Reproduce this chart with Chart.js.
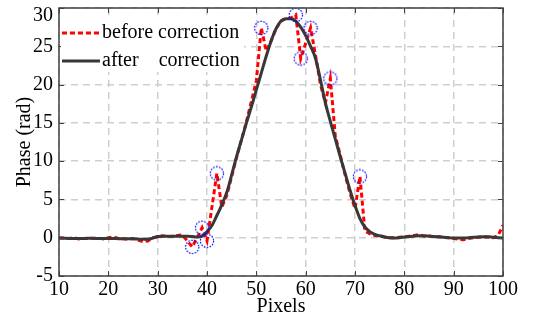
<!DOCTYPE html>
<html>
<head>
<meta charset="utf-8">
<script src="https://cdn.jsdelivr.net/npm/chart.js@4.4.1/dist/chart.umd.min.js"></script>
<style>
html,body{margin:0;padding:0;background:#fff;}
#c{display:block;}
</style>
</head>
<body>
<canvas id="c" width="540" height="324"></canvas>
<script>
// ---- data ----
const pixels = [10,11,12,13,14,15,16,17,18,19,20,21,22,23,24,25,26,27,28,29,30,31,32,33,34,35,36,37,38,39,40,41,42,43,44,45,46,47,48,49,50,51,52,53,54,55,56,57,58,59,60,61,62,63,64,65,66,67,68,69,70,71,72,73,74,75,76,77,78,79,80,81,82,83,84,85,86,87,88,89,90,91,92,93,94,95,96,97,98,99,100];
const afterCorrection = [
 -0.05,-0.08,-0.1,-0.1,-0.1,-0.1,-0.08,-0.08,-0.1,-0.1,
 -0.1,-0.1,-0.12,-0.12,-0.15,-0.15,-0.18,-0.2,-0.2,-0.05,
 0.15,0.2,0.2,0.2,0.2,0.2,0.18,0.15,0.1,0.2,
 0.8,1.6,2.9,4.3,5.9,8.2,10.6,12.8,15.0,17.1,
 19.3,21.5,23.7,25.7,27.3,28.3,28.6,28.6,28.3,27.5,
 26.4,25.0,23.4,20.6,17.6,15.2,12.9,10.6,8.4,6.2,
 4.2,2.5,1.4,0.8,0.45,0.25,0.1,0.0,-0.05,0.0,
 0.1,0.15,0.2,0.25,0.25,0.2,0.15,0.1,0.05,0.0,
 -0.05,-0.05,-0.05,0.0,0.05,0.1,0.12,0.12,0.05,0.0,
 -0.05];
const beforeCorrection = [
 0.0,-0.05,-0.1,0.0,-0.15,-0.1,-0.05,-0.1,-0.05,-0.15,
 0.0,0.1,-0.1,-0.15,-0.2,-0.1,-0.3,-0.5,-0.45,0.0,
 0.1,0.25,0.15,0.2,0.3,0.35,-0.4,-1.2,0.0,1.3,
 -0.4,4.0,8.4,4.0,5.5,8.0,10.5,12.8,15.2,17.8,
 20.5,27.4,24.4,25.7,27.3,28.3,28.6,28.7,29.1,23.4,
 25.4,27.4,23.8,20.0,17.6,20.8,13.3,10.8,8.2,5.8,
 3.8,8.0,0.9,0.5,0.3,0.25,0.1,0.0,0.0,0.05,
 0.1,0.2,0.3,0.4,0.2,0.25,0.1,0.15,0.05,0.0,
 -0.1,-0.2,-0.25,-0.1,0.0,0.05,0.1,0.05,0.0,0.3,
 1.6];
const outlierPixels = [37,39,40,42,51,58,59,61,65,71];
const xTicks = [10,20,30,40,50,60,70,80,90,100];
const yTicks = [-5,0,5,10,15,20,25,30];
const legendLabels = ['before correction', 'after    correction'];

// ---- build ----
const FONT = "'Liberation Serif', 'Times New Roman', serif";
const beforePts = pixels.map((p,i)=>({x:p,y:beforeCorrection[i]}));
const afterPts = pixels.map((p,i)=>({x:p,y:afterCorrection[i]}));
const outlierPts = outlierPixels.map(p=>({x:p,y:beforeCorrection[pixels.indexOf(p)]}));
const yTop = yTicks[yTicks.length-1];

const circ = document.createElement('canvas');
circ.width = 16; circ.height = 16;
(function(){
  const g = circ.getContext('2d');
  g.strokeStyle = '#0000ff';
  g.lineWidth = 1.2;
  g.setLineDash([1.6,1.4]);
  g.beginPath(); g.arc(8,8,6.6,0,Math.PI*2); g.stroke();
})();

const framePlugin = {
  id:'frame',
  afterDatasetsDraw(chart){
    const {ctx, chartArea:a, scales} = chart;
    ctx.save();
    ctx.strokeStyle = '#444';
    ctx.lineWidth = 1;
    ctx.setLineDash([]);
    ctx.beginPath();
    scales.x.ticks.forEach(t=>{
      const px = Math.round(scales.x.getPixelForValue(t.value))+0.5;
      ctx.moveTo(px,a.bottom); ctx.lineTo(px,a.bottom-5);
      ctx.moveTo(px,a.top); ctx.lineTo(px,a.top+5);
    });
    scales.y.ticks.forEach(t=>{
      const py = Math.round(scales.y.getPixelForValue(t.value))+0.5;
      ctx.moveTo(a.left,py); ctx.lineTo(a.left+5,py);
      ctx.moveTo(a.right,py); ctx.lineTo(a.right-5,py);
    });
    ctx.stroke();
    ctx.lineWidth = 1.5;
    ctx.strokeStyle = '#404040';
    ctx.strokeRect(a.left, a.top, a.right-a.left, a.bottom-a.top);
    ctx.restore();
  },
  afterDraw(chart){
    const ctx = chart.ctx;
    ctx.save();
    ctx.fillStyle = '#fff';
    ctx.fillRect(61,19,183,53);
    ctx.lineWidth = 3;
    ctx.strokeStyle = '#ff0000';
    ctx.setLineDash([5,3]);
    ctx.beginPath(); ctx.moveTo(62,33); ctx.lineTo(100,33); ctx.stroke();
    ctx.setLineDash([]);
    ctx.strokeStyle = '#383838';
    ctx.beginPath(); ctx.moveTo(62,61); ctx.lineTo(100,61); ctx.stroke();
    ctx.fillStyle = '#000';
    ctx.font = "20px " + FONT;
    ctx.textBaseline = 'middle';
    ctx.textAlign = 'left';
    ctx.fillText(legendLabels[0],102,33);
    ctx.fillText(legendLabels[1],102,61);
    ctx.restore();
  }
};

new Chart(document.getElementById('c'), {
  type:'line',
  data:{
    datasets:[
      {label:'outliers', data:outlierPts, showLine:false, pointStyle:circ, pointRadius:7, order:0},
      {label:legendLabels[1], data:afterPts, borderColor:'#383838', borderWidth:3, pointRadius:0, cubicInterpolationMode:'monotone', order:1},
      {label:legendLabels[0], data:beforePts, borderColor:'#ff0000', borderWidth:3, borderDash:[5,3], pointRadius:0, tension:0, order:2}
    ]
  },
  options:{
    responsive:false,
    animation:false,
    devicePixelRatio:1,
    layout:{padding:{left:0,right:37,top:5,bottom:0}},
    plugins:{legend:{display:false}, tooltip:{enabled:false}},
    scales:{
      x:{
        type:'linear', min:10, max:100,
        afterBuildTicks(s){ s.ticks = xTicks.map(v=>({value:v})); },
        afterFit(s){ s.height = 48; s.paddingLeft = 0; s.paddingRight = 0; },
        grid:{color:'#cfcfcf', lineWidth:1.5, drawTicks:false},
        border:{display:false, dash:[7,5]},
        ticks:{color:'#000', font:{family:FONT,size:20}, padding:2, maxRotation:0},
        title:{display:true, text:'Pixels', color:'#000', font:{family:FONT,size:20}, padding:{top:0,bottom:5}}
      },
      y:{
        type:'linear', min:-5, max:30,
        afterBuildTicks(s){ s.ticks = yTicks.map(v=>({value:v})); },
        afterFit(s){ s.width = 59; s.paddingTop = 0; s.paddingBottom = 0; },
        grid:{color:'#cfcfcf', lineWidth:1.5, drawTicks:false},
        border:{display:false, dash:[7,5]},
        ticks:{
          color:'#000', padding:6,
          font:(c)=>({family:FONT, size:20, lineHeight:(c.tick && c.tick.value===yTop) ? 0.8 : 1.2}),
          callback:(v)=> v===yTop ? ['', String(v)] : String(v)
        },
        title:{display:true, text:'Phase (rad)', color:'#000', font:{family:FONT,size:20}, padding:{top:13,bottom:0}}
      }
    }
  },
  plugins:[framePlugin]
});
</script>
</body>
</html>
